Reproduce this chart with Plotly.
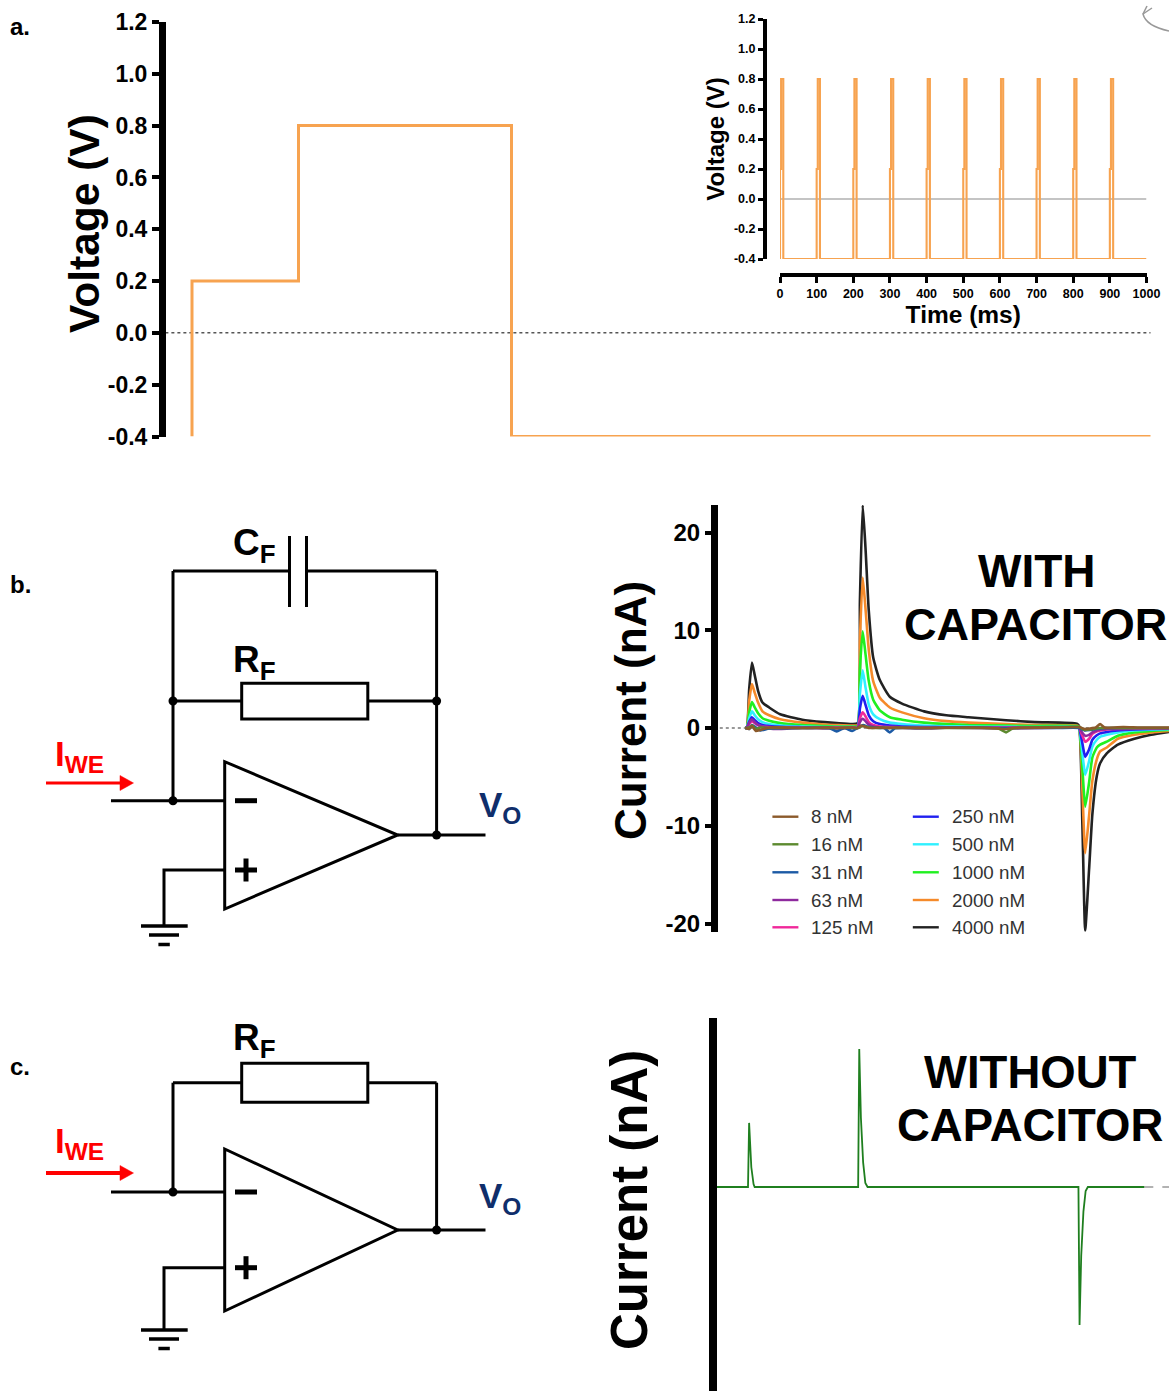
import plotly.graph_objects as go

W, H = 1169, 1391
SANS = "Liberation Sans"
ORANGE = "#F7A350"

# ---------- panel a: the voltage step ----------
STEP_T = [0, 0, 1, 1, 3, 3, 9]
STEP_V = [-0.4, 0.2, 0.2, 0.8, 0.8, -0.4, -0.4]
ZERO_T = [-0.25, 9]
ZERO_V = [0, 0]
V_TICKS = [-0.4, -0.2, 0.0, 0.2, 0.4, 0.6, 0.8, 1.0, 1.2]
V_TICK_LABELS = ["-0.4", "-0.2", "0.0", "0.2", "0.4", "0.6", "0.8", "1.0", "1.2"]

# ---------- panel a inset: the pulse train ----------
PULSE_START_MS = [0, 100, 200, 300, 400, 500, 600, 700, 800, 900]
PULSE_SHAPE_MS = [0, 0, 3, 3, 9, 9]
PULSE_SHAPE_V = [-0.4, 0.2, 0.2, 0.8, 0.8, -0.4]
TRAIN_END_MS = 1000
TIME_TICKS = [0, 100, 200, 300, 400, 500, 600, 700, 800, 900, 1000]
TIME_TICK_LABELS = ["0", "100", "200", "300", "400", "500", "600", "700", "800", "900", "1000"]

# ---------- panel b: current with the capacitor ----------
T_MAIN = [-0.015, 0.0, 0.02, 0.045, 0.07, 0.10, 0.14, 0.20, 0.30, 0.50, 0.70, 0.81, 0.95,
          1.0, 1.02, 1.045, 1.07, 1.10, 1.14, 1.20, 1.29, 1.40, 1.60, 1.80, 2.0, 2.34, 2.6, 2.98,
          3.0, 3.03, 3.055, 3.09, 3.12, 3.16, 3.19, 3.25, 3.35, 3.5, 3.65, 3.82]
T_BASE = [-0.015, 0.02, 0.045, 0.08, 0.12, 0.2, 0.5, 0.74, 0.81, 0.88, 0.95, 1.0, 1.03, 1.05, 1.1, 1.2, 1.24,
          1.29, 1.34, 1.6, 2.0, 2.27, 2.34, 2.4, 2.8, 3.0, 3.05, 3.1, 3.15, 3.19, 3.23, 3.4, 3.55, 3.82]

I_4000 = [0, 0.1, 4.0, 6.7, 5.4, 3.8, 2.6, 2.1, 1.4, 0.85, 0.6, 0.5, 0.4,
          0.5, 13, 22.8, 18.5, 12, 7.2, 4.9, 3.2, 2.5, 1.7, 1.3, 1.1, 0.8, 0.6, 0.45,
          0.2, -10, -20.7, -14.5, -8.8, -4.9, -3.6, -2.6, -1.7, -1.1, -0.7, -0.4]
I_2000 = [0, 0.1, 2.8, 4.5, 3.6, 2.6, 1.7, 1.3, 0.9, 0.55, 0.35, 0.3, 0.25,
          0.3, 9, 15.4, 12.3, 8, 4.8, 3.1, 2.1, 1.6, 1.0, 0.7, 0.55, 0.4, 0.3, 0.25,
          0.1, -6.5, -12.8, -9, -5.4, -3.2, -2.4, -2.0, -1.1, -0.7, -0.45, -0.3]
I_1000 = [0, 0.1, 1.6, 2.66, 2.1, 1.5, 1.0, 0.75, 0.5, 0.3, 0.2, 0.15, 0.15,
          0.2, 6, 9.9, 7.6, 4.8, 2.9, 1.8, 1.1, 0.85, 0.55, 0.4, 0.3, 0.25, 0.2, 0.2,
          0.05, -4.2, -8.05, -5.6, -3, -2, -1.7, -1.4, -0.8, -0.45, -0.3, -0.2]
I_500 = [0, 0.05, 1.0, 1.7, 1.3, 0.9, 0.6, 0.4, 0.25, 0.15, 0.1, 0.1, 0.1,
         0.1, 3.5, 5.9, 4.2, 2.4, 1.4, 0.9, 0.55, 0.4, 0.25, 0.18, 0.15, 0.12, 0.1, 0.1,
         0.0, -2.6, -4.8, -3.4, -1.9, -1.2, -0.9, -0.7, -0.45, -0.25, -0.18, -0.12]
I_250 = [0, 0.05, 0.65, 1.1, 0.8, 0.5, 0.3, 0.2, 0.12, 0.08, 0.05, 0.05, 0.05,
         0.05, 2.0, 3.3, 2.4, 1.3, 0.7, 0.4, 0.25, 0.15, 0.1, 0.08, 0.06, 0.05, 0.05, 0.05,
         0, -1.6, -2.95, -2.2, -1.2, -0.75, -0.55, -0.4, -0.25, -0.15, -0.1, -0.08]
I_125 = [0, 0.05, 0.4, 0.7, 0.5, 0.3, 0.15, 0.1, 0.06, 0.05, 0.05, 0.05, 0.05,
         0.05, 1.0, 1.6, 1.2, 0.6, 0.3, 0.15, 0.1, 0.08, 0.05, 0.05, 0.05, 0.05, 0.05, 0.05,
         0, -0.8, -1.4, -1.1, -0.6, -0.35, -0.25, -0.15, -0.1, -0.08, -0.06, -0.05]
I_63 = [0, 0.05, 0.55, 0.9, 0.6, 0.3, 0.15, -0.05, -0.1, 0, -0.05, -0.05, 0,
        0, 0.6, 0.95, 0.7, 0.35, 0.15, 0.05, 0, 0, -0.05, 0.02, 0, -0.05, 0, 0.05,
        0, -0.5, -0.8, -0.7, -0.45, -0.25, -0.15, -0.1, -0.05, -0.03, -0.02, -0.02]
I_31 = [0, -0.1, 0.3, 0.05, -0.25, -0.05, 0, 0, -0.35, 0, -0.3, 0, 0.2, 0.3, 0.1, 0, 0,
        -0.45, 0, 0, 0.05, 0, 0, 0, 0, 0, -0.25, -0.2, -0.1, -0.05, 0, 0, 0, 0]
I_16 = [0, 0.05, 0.25, -0.1, 0.05, 0, 0, 0, 0, 0.05, 0, 0, 0.15, 0.2, 0.05, 0, 0.05,
        0, 0, 0, 0, -0.05, -0.45, -0.05, 0.1, 0.1, -0.2, -0.15, -0.05, 0, 0, 0, 0, 0]
I_8 = [0, -0.1, 0.2, -0.3, -0.2, 0.05, 0, 0.05, 0, 0, 0.05, 0, 0.25, 0.2, 0, 0.05, 0,
       0.02, 0.05, 0, 0.05, -0.05, -0.1, 0, 0.05, 0.1, -0.1, -0.05, 0.05, 0.4, 0.05, 0.1, 0.05, 0.05]

CONC_LABELS = ["8 nM", "16 nM", "31 nM", "63 nM", "125 nM",
               "250 nM", "500 nM", "1000 nM", "2000 nM", "4000 nM"]
CONC_COLORS = ["#8B5A2B", "#5C8A2F", "#1C5AA5", "#8E2A9E", "#F0289A",
               "#2020F0", "#30F0FF", "#20F020", "#F58A2A", "#222222"]
CONC_TIME = [T_BASE, T_BASE, T_BASE, T_MAIN, T_MAIN, T_MAIN, T_MAIN, T_MAIN, T_MAIN, T_MAIN]
CONC_VALUES = [I_8, I_16, I_31, I_63, I_125, I_250, I_500, I_1000, I_2000, I_4000]
I_TICKS = [-20, -10, 0, 10, 20]
I_TICK_LABELS = ["-20", "-10", "0", "10", "20"]
ZERO_B_T = [-0.3, 3.85]
ZERO_B_I = [0, 0]

# ---------- panel c: current without the capacitor ----------
T_NOCAP = [-0.28, 0, 0.01, 0.02, 0.03, 0.05, 0.06, 0.995, 1.005, 1.02, 1.04, 1.06, 1.08,
           2.985, 2.995, 3.01, 3.03, 3.05, 3.07, 3.58]
I_NOCAP = [0, 0, 6.5, 4, 2, 0.3, 0, 0, 14, 7, 2.5, 0.4, 0,
           0, -14, -7, -2.5, -0.4, 0, 0]
DASH_T = [3.58, 3.81]
DASH_I = [0, 0]


def X(p):
    return p / W


def Y(p):
    return 1 - p / H


fig = go.Figure()
shapes = []
notes = []


def wire(points, color="#000000", width=3, fill=None, close=False):
    path = "M" + " L".join(f"{X(a):.5f},{Y(b):.5f}" for a, b in points) + (" Z" if close else "")
    shapes.append(dict(type="path", path=path, xref="paper", yref="paper",
                       line=dict(color=color, width=width), fillcolor=fill))


def dot(cx, cy, r=4.5):
    shapes.append(dict(type="circle", xref="paper", yref="paper",
                       x0=X(cx - r), x1=X(cx + r), y0=Y(cy + r), y1=Y(cy - r),
                       fillcolor="#000000", line=dict(color="#000000", width=0)))


def note(text, px, py, size, color="#000000", bold=True, xanchor="left", yanchor="middle", angle=0):
    notes.append(dict(text=text, x=X(px), y=Y(py), xref="paper", yref="paper", showarrow=False,
                      xanchor=xanchor, yanchor=yanchor, align="center", textangle=angle,
                      borderpad=0, borderwidth=0,
                      font=dict(family=SANS, size=size, color=color, weight=700 if bold else 400)))


def amp(input_y, plus_y, ground_y, tri_top, tri_bot, out_y, feedback_top):
    left, right, tip = 224.7, 436.6, 397.7
    wire([(left, tri_top), (left, tri_bot), (tip, out_y)], close=True)
    wire([(111, input_y), (left, input_y)])
    wire([(tip, out_y), (485.5, out_y)])
    wire([(173, feedback_top), (173, input_y)])
    wire([(right, feedback_top), (right, out_y)])
    wire([(left, plus_y), (164, plus_y), (164, ground_y)])
    wire([(141, ground_y), (187.7, ground_y)], width=3.5)
    wire([(149, ground_y + 9), (179, ground_y + 9)], width=3.5)
    wire([(158.4, ground_y + 18.5), (169.8, ground_y + 18.5)], width=3.5)
    wire([(235, input_y), (257, input_y)], width=5)
    wire([(235, plus_y), (257, plus_y)], width=5)
    wire([(246, plus_y - 11.5), (246, plus_y + 11.5)], width=5)
    dot(173, input_y)
    dot(right, out_y)


def red_arrow(y, width):
    wire([(46, y), (122, y)], color="#FF0000", width=width)
    wire([(120, y - 7.5), (133.5, y), (120, y + 7.5)], color="#FF0000", width=0.5, fill="#FF0000", close=True)


# circuit b
amp(800.7, 870, 926, 761.7, 909, 835, 571)
wire([(173, 571), (289.5, 571)])
wire([(306.5, 571), (436.6, 571)])
wire([(289.5, 536), (289.5, 607)])
wire([(306.5, 536), (306.5, 607)])
wire([(173, 701), (241.7, 701)])
wire([(367.8, 701), (436.6, 701)])
wire([(241.7, 683.3), (367.8, 683.3), (367.8, 719), (241.7, 719)], close=True)
dot(173, 701)
dot(436.6, 701)
red_arrow(783, 3)

# circuit c
amp(1192, 1267.7, 1330, 1149, 1311, 1230, 1082.7)
wire([(173, 1082.7), (241.7, 1082.7)])
wire([(367.8, 1082.7), (436.6, 1082.7)])
wire([(241.7, 1063.3), (367.8, 1063.3), (367.8, 1102.3), (241.7, 1102.3)], close=True)
red_arrow(1173, 4)

# stray pen mark in the top right corner
shapes.append(dict(type="path", xref="paper", yref="paper",
                   path=(f"M{X(1152)},{Y(8)} L{X(1143)},{Y(14)} "
                         f"C{X(1145)},{Y(22)} {X(1155)},{Y(28)} {X(1169)},{Y(31)}"),
                   line=dict(color="#999999", width=1.5)))
wire([(1147, 6), (1143, 14)], color="#999999", width=1.5)

# ---------- traces ----------
fig.add_trace(go.Scatter(x=ZERO_T, y=ZERO_V, mode="lines", xaxis="x", yaxis="y", name="zero",
                         line=dict(color="#555555", width=1.5, dash="dot"), cliponaxis=False))
fig.add_trace(go.Scatter(x=STEP_T, y=STEP_V, mode="lines", xaxis="x", yaxis="y", name="Voltage step",
                         line=dict(color=ORANGE, width=3), cliponaxis=False))

train_t, train_v = [], []
for start in PULSE_START_MS:
    train_t += [start + d for d in PULSE_SHAPE_MS]
    train_v += PULSE_SHAPE_V
train_t.append(TRAIN_END_MS)
train_v.append(PULSE_SHAPE_V[-1])
fig.add_trace(go.Scatter(x=[-48, TRAIN_END_MS], y=[0, 0], mode="lines", xaxis="x2", yaxis="y2", name="zero inset",
                         line=dict(color="#B0B0B0", width=1.5), cliponaxis=False))
fig.add_trace(go.Scatter(x=train_t, y=train_v, mode="lines", xaxis="x2", yaxis="y2", name="Pulse train",
                         line=dict(color=ORANGE, width=2.1), cliponaxis=False))

fig.add_trace(go.Scatter(x=ZERO_B_T, y=ZERO_B_I, mode="lines", xaxis="x3", yaxis="y3", name="zero b",
                         line=dict(color="#777777", width=1.5, dash="dot")))
for label, color, tt, vals in list(zip(CONC_LABELS, CONC_COLORS, CONC_TIME, CONC_VALUES))[::-1]:
    fig.add_trace(go.Scatter(x=tt, y=vals, mode="lines", xaxis="x3", yaxis="y3", name=label,
                             line=dict(color=color, width=2.6, shape="spline", smoothing=0.5)))

fig.add_trace(go.Scatter(x=DASH_T, y=DASH_I, mode="lines", xaxis="x4", yaxis="y4", name="dash",
                         line=dict(color="#999999", width=1.5, dash="dash")))
fig.add_trace(go.Scatter(x=T_NOCAP, y=I_NOCAP, mode="lines", xaxis="x4", yaxis="y4", name="No capacitor",
                         line=dict(color="#1F7F1F", width=1.8)))

# ---------- manual two-column legend ----------
ROWS = [816.7, 844.3, 872.3, 900, 927.3]
for i, (label, color) in enumerate(zip(CONC_LABELS, CONC_COLORS)):
    col = i // 5
    row = ROWS[i % 5]
    x0 = 772.4 if col == 0 else 912.8
    wire([(x0, row), (x0 + 26, row)], color=color, width=2.4)
    note(label, 811 if col == 0 else 951.5, row, 18.8, color="#333333", bold=False)

# ---------- texts ----------
note("a.", 10, 26, 24)
note("b.", 10, 584, 24)
note("c.", 10, 1066, 24)
note("WITH", 1037, 571, 46, xanchor="center")
note("CAPACITOR", 1035, 625, 45, xanchor="center")
note("WITHOUT", 1030, 1072, 45.5, xanchor="center")
note("CAPACITOR", 1030, 1125, 45.5, xanchor="center")
note("C<sub>F</sub>", 233, 545, 37)
note("R<sub>F</sub>", 233, 662, 37)
note("R<sub>F</sub>", 233, 1040, 37)
note("I<sub>WE</sub>", 55, 756, 35, color="#FF0000")
note("I<sub>WE</sub>", 55, 1143, 35, color="#FF0000")
note("V<sub>O</sub>", 479, 807, 35, color="#0F2E6B")
note("V<sub>O</sub>", 479, 1198, 35, color="#0F2E6B")
note("Voltage (V)", 84, 224, 42.5, xanchor="center", angle=-90)
note("Current (nA)", 630, 711, 44, xanchor="center", angle=-90)
note("Current (nA)", 629, 1200, 51, xanchor="center", angle=-90)


def xrange_for(px0, px1, zero_px, scale):
    return [(px0 - zero_px) / scale, (px1 - zero_px) / scale]


def tick_font(size):
    return dict(family=SANS, size=size, color="#000000", weight=700)


title_font = tick_font

fig.update_layout(
    width=W, height=H, autosize=False, showlegend=False,
    margin=dict(l=0, r=0, t=0, b=0, pad=0, autoexpand=False),
    paper_bgcolor="#FFFFFF", plot_bgcolor="rgba(0,0,0,0)",
    shapes=shapes, annotations=notes,
    xaxis=dict(domain=[X(166), 1], range=xrange_for(166, 1169, 192, 106.5), visible=False, anchor="y"),
    yaxis=dict(domain=[Y(436.5), Y(22)], range=[-0.4, 1.2], tickvals=V_TICKS, ticktext=V_TICK_LABELS,
               showgrid=False, zeroline=False, showline=True, linewidth=7, linecolor="#000000",
               ticks="outside", ticklen=7, tickwidth=3.5, tickcolor="#000000",
               tickfont=tick_font(23), anchor="x", automargin=False),
    xaxis2=dict(domain=[X(780), X(1146.5)], range=[0, 1000], tickvals=TIME_TICKS, ticktext=TIME_TICK_LABELS,
                showgrid=False, zeroline=False, showline=True, linewidth=3.5, linecolor="#000000",
                ticks="outside", ticklen=6, tickwidth=2.5, tickcolor="#000000",
                tickfont=tick_font(12.5), anchor="free", position=Y(275), automargin=False,
                title=dict(text="Time (ms)", font=title_font(24.5), standoff=0)),
    yaxis2=dict(domain=[Y(259), Y(19)], range=[-0.4, 1.2], tickvals=V_TICKS, ticktext=V_TICK_LABELS,
                showgrid=False, zeroline=False, showline=True, linewidth=4, linecolor="#000000",
                ticks="outside", ticklen=5, tickwidth=2.5, tickcolor="#000000",
                tickfont=tick_font(12.5), anchor="free", position=X(765), automargin=False,
                title=dict(text="Voltage (V)", font=title_font(24), standoff=2)),
    xaxis3=dict(domain=[X(718), 1], range=xrange_for(718, 1169, 747, 110.7), visible=False, anchor="y3"),
    yaxis3=dict(domain=[Y(932), Y(505)], range=[(728 - 932) / 9.775, (728 - 505) / 9.775],
                tickvals=I_TICKS, ticktext=I_TICK_LABELS,
                showgrid=False, zeroline=False, showline=True, linewidth=7, linecolor="#000000",
                ticks="outside", ticklen=6, tickwidth=3.5, tickcolor="#000000",
                tickfont=tick_font(24), anchor="x3", automargin=False),
    xaxis4=dict(domain=[X(717), 1], range=xrange_for(717, 1169, 748, 110.7), visible=False, anchor="y4"),
    yaxis4=dict(domain=[Y(1391), Y(1018)], range=[-(1391 - 1187) / 9.86, (1187 - 1018) / 9.86],
                showgrid=False, zeroline=False, showline=True, linewidth=8, linecolor="#000000",
                ticks="", showticklabels=False, anchor="x4", automargin=False),
)

fig.write_html("out.html", config=dict(displayModeBar=False),
               post_script="document.body.style.margin='0';document.documentElement.style.overflow='hidden';")
